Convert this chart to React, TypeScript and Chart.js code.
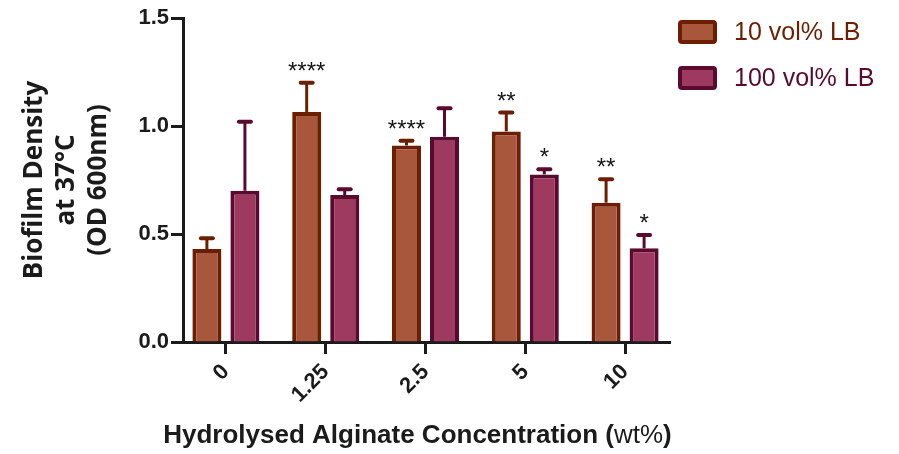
import { useEffect, useRef } from 'react';
import { Chart, registerables } from 'chart.js';

Chart.register(...registerables);

// Hydrolysed alginate concentration (wt%) on the x axis
const concentrations = ['0', '1.25', '2.5', '5', '10'];

// Biofilm density (OD 600nm), mean and upper error (SD)
const lb10Means = [0.43, 1.065, 0.91, 0.975, 0.645];
const lb10Errors = [0.05, 0.135, 0.022, 0.087, 0.108];
const lb100Means = [0.7, 0.68, 0.95, 0.776, 0.434];
const lb100Errors = [0.32, 0.027, 0.132, 0.024, 0.061];

// Significance markers above each bar
const lb10Stars = ['', '****', '****', '**', '**'];
const lb100Stars = ['', '', '', '*', '*'];

const yTickValues = [0, 0.5, 1.0, 1.5];
const seriesLabels = ['10 vol% LB', '100 vol% LB'];

const AXIS = '#1b1b1b';
const ORANGE_FILL = '#a8563c';
const ORANGE_EDGE = '#6c1f00';
const PURPLE_FILL = '#9e3a5f';
const PURPLE_EDGE = '#5a0a2f';

const errorBarPlugin = {
  id: 'errorBars',
  afterDatasetsDraw(chart: any) {
    const { ctx } = chart;
    const yScale = chart.scales.y;
    chart.data.datasets.forEach((ds: any, di: number) => {
      const meta = chart.getDatasetMeta(di);
      meta.data.forEach((bar: any, i: number) => {
        const value = ds.data[i].y;
        const top = yScale.getPixelForValue(value + ds.errors[i]);
        ctx.save();
        ctx.strokeStyle = ds.borderColor;
        ctx.lineWidth = 3;
        ctx.beginPath();
        ctx.moveTo(bar.x, bar.y);
        ctx.lineTo(bar.x, top);
        ctx.stroke();
        ctx.lineWidth = 4;
        ctx.lineCap = 'round';
        ctx.beginPath();
        ctx.moveTo(bar.x - 6, top);
        ctx.lineTo(bar.x + 6, top);
        ctx.stroke();
        if (ds.stars[i]) {
          ctx.fillStyle = '#141414';
          ctx.font = '24px "Liberation Sans", Arial, sans-serif';
          ctx.textAlign = 'center';
          ctx.textBaseline = 'alphabetic';
          ctx.fillText(ds.stars[i], bar.x, top - 4);
        }
        ctx.restore();
      });
    });
  },
};

const sideLegendPlugin = {
  id: 'sideLegend',
  afterDraw(chart: any) {
    const { ctx, chartArea } = chart;
    const x0 = chartArea.right + 8;
    chart.data.datasets.forEach((ds: any, i: number) => {
      const cy = 31.5 + i * 46;
      ctx.save();
      ctx.fillStyle = ds.backgroundColor;
      ctx.strokeStyle = ds.borderColor;
      ctx.lineWidth = 4;
      ctx.lineJoin = 'round';
      ctx.beginPath();
      ctx.roundRect(x0 + 2, cy - 9.5, 35, 20, 2);
      ctx.fill();
      ctx.stroke();
      ctx.fillStyle = ds.legendColor;
      ctx.font = '25px "Liberation Sans", Arial, sans-serif';
      ctx.textAlign = 'left';
      ctx.textBaseline = 'middle';
      ctx.fillText(ds.label, x0 + 56, cy + 1.5);
      ctx.restore();
    });
  },
};

const xTitlePlugin = {
  id: 'xTitle',
  afterDraw(chart: any) {
    const { ctx, chartArea } = chart;
    const bold = 'bold 26px "Liberation Sans", Arial, sans-serif';
    const regular = '26px "Liberation Sans", Arial, sans-serif';
    const parts: [string, string][] = [
      ['Hydrolysed Alginate Concentration (', bold],
      ['wt%', regular],
      [')', bold],
    ];
    ctx.save();
    let total = 0;
    parts.forEach(([t, f]) => {
      ctx.font = f;
      total += ctx.measureText(t).width;
    });
    let x = (chartArea.left + chartArea.right) / 2 - 9 - total / 2;
    const y = 443;
    ctx.fillStyle = AXIS;
    ctx.textAlign = 'left';
    ctx.textBaseline = 'alphabetic';
    parts.forEach(([t, f]) => {
      ctx.font = f;
      ctx.fillText(t, x, y);
      x += ctx.measureText(t).width;
    });
    ctx.restore();
  },
};

export default function App() {
  const canvasRef = useRef<HTMLCanvasElement | null>(null);

  useEffect(() => {
    document.body.style.margin = '0';
    const canvas = canvasRef.current;
    if (!canvas) return;

    const chart = new Chart(canvas, {
      type: 'bar',
      data: {
        datasets: [
          {
            label: seriesLabels[0],
            data: lb10Means.map((y, i) => ({ x: i, y })),
            backgroundColor: ORANGE_FILL,
            borderColor: ORANGE_EDGE,
            borderWidth: 4,
            errors: lb10Errors,
            stars: lb10Stars,
            legendColor: '#6c1f00',
          } as any,
          {
            label: seriesLabels[1],
            data: lb100Means.map((y, i) => ({ x: i, y })),
            backgroundColor: PURPLE_FILL,
            borderColor: PURPLE_EDGE,
            borderWidth: 4,
            errors: lb100Errors,
            stars: lb100Stars,
            legendColor: '#5a0a2f',
          } as any,
        ],
      },
      options: {
        responsive: false,
        animation: false,
        devicePixelRatio: 1,
        categoryPercentage: 0.762,
        barPercentage: 0.763,
        layout: { padding: { top: 18, right: 229, bottom: 0, left: 0 } },
        plugins: {
          legend: { display: false },
          tooltip: { enabled: false },
        },
        scales: {
          x: {
            type: 'linear',
            min: -0.43,
            max: 4.45,
            offset: false,
            grid: {
              offset: false,
              drawOnChartArea: false,
              drawTicks: true,
              tickLength: 12,
              tickWidth: 3,
              tickColor: AXIS,
            },
            border: { display: true, width: 3, color: AXIS },
            afterBuildTicks: (scale: any) => {
              scale.ticks = concentrations.map((_, i) => ({ value: i }));
            },
            afterFit: (scale: any) => {
              scale.height = 112;
            },
            ticks: {
              autoSkip: false,
              minRotation: 45,
              maxRotation: 45,
              padding: 5,
              color: AXIS,
              font: { family: '"Liberation Sans", Arial, sans-serif', weight: 'bold', size: 22 },
              callback: (v: any) => concentrations[Math.round(Number(v))],
            },
          },
          y: {
            min: 0,
            max: 1.5,
            afterBuildTicks: (scale: any) => {
              scale.ticks = yTickValues.map((v) => ({ value: v }));
            },
            afterFit: (scale: any) => {
              scale.width = 183;
            },
            grid: {
              drawOnChartArea: false,
              drawTicks: true,
              tickLength: 12,
              tickWidth: 3,
              tickColor: AXIS,
            },
            border: { display: true, width: 3, color: AXIS },
            ticks: {
              padding: 2,
              color: AXIS,
              font: { family: '"Liberation Sans", Arial, sans-serif', weight: 'bold', size: 22 },
              callback: (v: any) => Number(v).toFixed(1),
            },
            title: {
              display: true,
              text: ['Biofilm Density', 'at 37°C', '(OD 600nm)'],
              color: AXIS,
              padding: { top: 19, bottom: 0 },
              font: { family: '"Open Sans", sans-serif', weight: 'bold', size: 26, lineHeight: 32 / 26 },
            },
          },
        },
      } as any,
      plugins: [errorBarPlugin, sideLegendPlugin, xTitlePlugin],
    });

    return () => chart.destroy();
  }, []);

  return (
    <div style={{ width: 899, height: 454 }}>
      <canvas ref={canvasRef} width={899} height={454} style={{ display: 'block' }} />
    </div>
  );
}
